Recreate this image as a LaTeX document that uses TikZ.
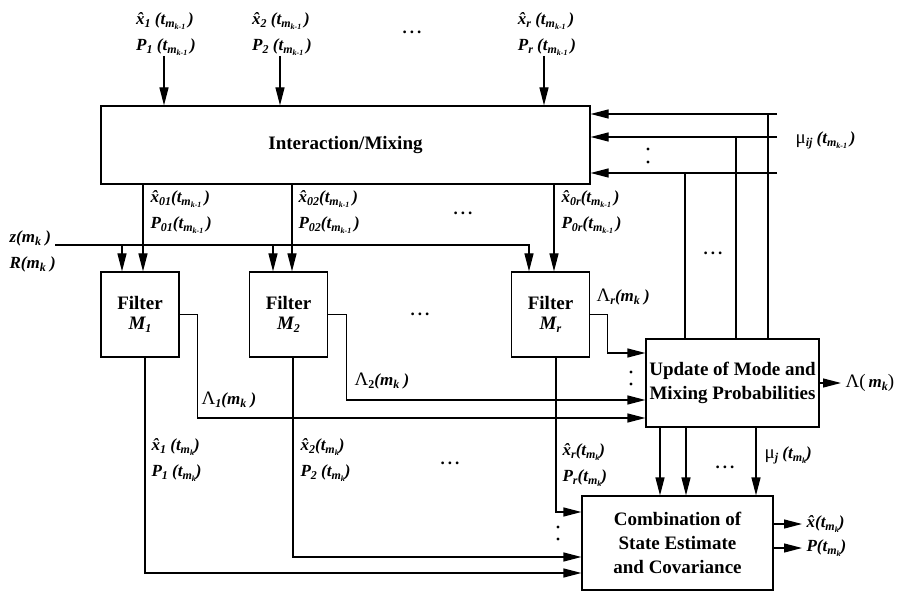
\documentclass[tikz,border=0pt]{standalone}
\usepackage{fontspec}
\setmainfont{Liberation Serif}
\usetikzlibrary{calc}
\usetikzlibrary{positioning}
\usetikzlibrary{arrows.meta}
\newcommand{\lsub}[1]{\raisebox{-0.4ex}{\fontsize{12}{12}\selectfont #1}}
\newcommand{\lssub}[1]{\raisebox{-0.35ex}{\fontsize{8}{8}\selectfont #1}}
\newcommand{\xhat}{\^{x}}
\newcommand{\tkm}{(t\lsub{m\lssub{k-1}}\,)}
\newcommand{\tk}{(t\lsub{m\lssub{k}})}
\newcommand{\mk}{m\lsub{k}}
\newcommand{\grk}[1]{{\normalfont\fontsize{19}{19}\selectfont #1}}

\begin{document}
\begin{tikzpicture}[x=1pt, y=-1pt, line width=1.2pt,
		blk/.style={draw, line width=1.2pt, font=\fontsize{19}{24}\selectfont\bfseries, align=center, inner sep=0pt},
		lb/.style={font=\fontsize{17}{26}\selectfont\bfseries\itshape, align=left, inner sep=0pt},
		arr/.style={-{Triangle[length=18pt,width=9pt]}},
		dts/.style={font=\fontsize{17}{20}\selectfont\bfseries, inner sep=0pt}
		]
		\useasboundingbox (0,0) rectangle (899,593);

		% blocks
		\node[blk, minimum width=489pt, minimum height=78pt] (mix) at (345.5,145) {Interaction/Mixing};
		\node[blk, minimum width=78pt, minimum height=85pt] (f1) at (140,314.5) {Filter\\[-4pt]\textit{M\lsub{1}}};
		\node[blk, minimum width=78pt, minimum height=85pt] (f2) at (288.5,314.5) {Filter\\[-4pt]\textit{M\lsub{2}}};
		\node[blk, minimum width=78pt, minimum height=85pt] (fr) at (550.5,314.5) {Filter\\[-4pt]\textit{M\lsub{r}}};
		\node[blk, minimum width=173pt, minimum height=88pt] (upd) at (732.5,383) {Update of Mode and\\Mixing Probabilities};
		\node[blk, minimum width=191pt, minimum height=94pt] (cmb) at (677.5,543) {Combination of\\State Estimate\\and Covariance};

		% inputs of the mixing
		\node[lb, anchor=south] (in1) at (166,56) {\xhat\lsub{1} \tkm\\P\lsub{1} \tkm};
		\node[lb, anchor=south] (in2) at (282,56) {\xhat\lsub{2} \tkm\\P\lsub{2} \tkm};
		\node[lb, anchor=south] (inr) at (547,56) {\xhat\lsub{r} \tkm\\P\lsub{r} \tkm};
		\node[dts] (d1) at (412,32) {.\hspace{3pt}.\hspace{3pt}.};
		\draw[arr] (in1.south -| 164,0) -- (164,0 |- mix.north);
		\draw[arr] (in2.south -| 280,0) -- (280,0 |- mix.north);
		\draw[arr] (inr.south -| 544,0) -- (544,0 |- mix.north);

		\coordinate (mu1) at (777,114);
		\coordinate (mu2) at (777,137);
		\coordinate (mu3) at (777,173);
		\node[lb, anchor=west] (muij) at (795,140) {\grk{μ}\lsub{ij} \tkm};
		\draw[arr] (mu1) -- (mu1 -| mix.east);
		\draw[arr] (mu2) -- (mu2 -| mix.east);
		\draw[arr] (mu3) -- (mu3 -| mix.east);
		\draw ([xshift=35.5pt]upd.north) -- ([xshift=35.5pt]upd.north |- mu1);
		\draw ([xshift=3.5pt]upd.north) -- ([xshift=3.5pt]upd.north |- mu2);
		\draw ([xshift=-47.5pt]upd.north) -- ([xshift=-47.5pt]upd.north |- mu3);
		\fill (648,149) circle (1.6) (648,162) circle (1.6);
		\node[dts] (d2) at (713,253) {.\hspace{3pt}.\hspace{3pt}.};

		% mixed estimates to the filters
		\draw[arr] ([xshift=3pt]f1.north |- mix.south) -- ([xshift=3pt]f1.north);
		\draw[arr] ([xshift=3.5pt]f2.north |- mix.south) -- ([xshift=3.5pt]f2.north);
		\draw[arr] ([xshift=3.5pt]fr.north |- mix.south) -- ([xshift=3.5pt]fr.north);
		\node[lb, anchor=west] (o1) at (150,212) {\xhat\lsub{01}\tkm\\P\lsub{01}\tkm};
		\node[lb, anchor=west] (o2) at (298,212) {\xhat\lsub{02}\tkm\\P\lsub{02}\tkm};
		\node[lb, anchor=west] (or) at (561,212) {\xhat\lsub{0r}\tkm\\P\lsub{0r}\tkm};
		\node[dts] (d3) at (463,213) {.\hspace{3pt}.\hspace{3pt}.};

		% measurement
		\node[lb, anchor=west] (zin) at (9,251) {z(\mk\ )\\R(\mk\ )};
		\coordinate (zs) at (55,245);
		\coordinate (z1) at ([xshift=-18pt]f1.north);
		\coordinate (z2) at ([xshift=-15.5pt]f2.north);
		\draw[arr] (zs) -| ([xshift=-21.5pt]fr.north);
		\draw[arr] (zs -| z1) -- (z1);
		\draw[arr] (zs -| z2) -- (z2);
		\node[dts] (d4) at (420,314) {.\hspace{3pt}.\hspace{3pt}.};

		% likelihoods
		\draw[arr] (f1.east) -- ++(18,0) |- ($(upd.west)+(0,35)$);
		\draw[arr] (f2.east) -- ++(18,0) |- ($(upd.west)+(0,17)$);
		\draw[arr] (fr.east) -- ++(17,0) |- ($(upd.west)+(0,-30)$);
		\node[lb, anchor=west] (l1) at (201,400) {\grk{Λ}\lsub{1}(\mk\ )};
		\node[lb, anchor=west] (l2) at (354,381) {\grk{Λ}\lsub{\upshape 2}(\mk\ )};
		\node[lb, anchor=west] (lr) at (596,297) {\grk{Λ}\lsub{r}(\mk\ )};
		\fill (631,372) circle (1.6) (631,384) circle (1.6);

		\node[lb, anchor=west] (lam) at (845,383) {\grk{Λ(}\,\mk\grk{)}};
		\draw[arr] (upd.east) -- ([xshift=-4pt]lam.west);

		% mode probabilities
		\draw[arr] ([xshift=-72.5pt]upd.south) -- ([xshift=-72.5pt]upd.south |- cmb.north);
		\draw[arr] ([xshift=-46.5pt]upd.south) -- ([xshift=-46.5pt]upd.south |- cmb.north);
		\draw[arr] ([xshift=23.5pt]upd.south) -- ([xshift=23.5pt]upd.south |- cmb.north);
		\node[dts] (d5) at (725,467) {.\hspace{3pt}.\hspace{3pt}.};
		\node[lb, anchor=west] (muj) at (764,455) {\grk{μ}\lsub{j} \tk};

		% filter estimates
		\draw[arr] ([xshift=5pt]f1.south) |- ($(cmb.west)+(0,30)$);
		\draw[arr] ([xshift=4.5pt]f2.south) |- ($(cmb.west)+(0,14)$);
		\draw[arr] ([xshift=5.5pt]fr.south) |- ($(cmb.west)+(0,-31)$);
		\node[lb, anchor=west] (b1) at (151,460) {\xhat\lsub{1} \tk\\P\lsub{1} \tk};
		\node[lb, anchor=west] (b2) at (300,460) {\xhat\lsub{2}\tk\\P\lsub{2} \tk};
		\node[lb, anchor=west] (br) at (562,465) {\xhat\lsub{r}\tk\\P\lsub{r}\tk};
		\node[dts] (d6) at (450,463) {.\hspace{3pt}.\hspace{3pt}.};
		\fill (558,527) circle (1.6) (558,539) circle (1.6);

		% outputs
		\node[lb, anchor=west] (xo) at (806,524) {\xhat\tk};
		\node[lb, anchor=west] (po) at (806,548) {P\tk};
		\draw[arr] (cmb.east |- xo) -- ([xshift=-4pt]xo.west);
		\draw[arr] (cmb.east |- po) -- ([xshift=-4pt]po.west);
	\end{tikzpicture}
\end{document}
